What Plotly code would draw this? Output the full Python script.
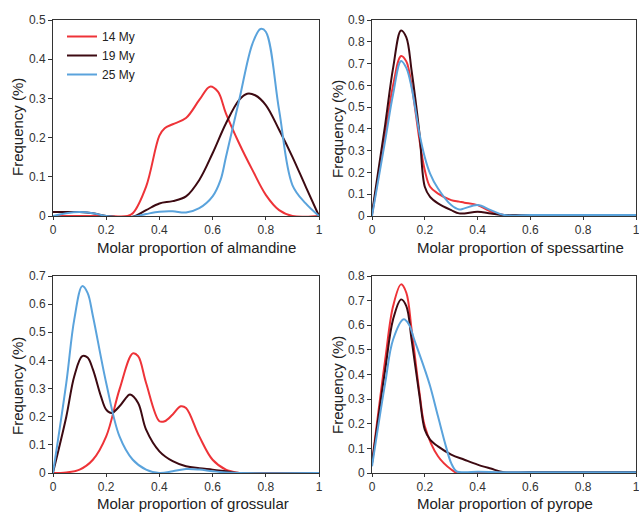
import plotly.graph_objects as go

# ---------------- data ----------------
series_names = ["14 My", "19 My", "25 My"]
series_colors = ["#EE3338", "#3D0A12", "#5AA3DC"]

# Almandine
alm_x_red = [0, 0.1, 0.2, 0.28, 0.3, 0.35, 0.4, 0.42, 0.45, 0.5, 0.55, 0.59, 0.62, 0.65, 0.7, 0.75, 0.8, 0.85, 0.9, 0.95, 1.0]
alm_y_red = [0, 0.0, 0.0, 0.0, 0.007, 0.075, 0.205, 0.224, 0.234, 0.25, 0.296, 0.33, 0.317, 0.262, 0.185, 0.117, 0.054, 0.015, 0.0, -0.002, 0.0]
alm_x_dark = [0, 0.1, 0.15, 0.2, 0.25, 0.3, 0.35, 0.4, 0.45, 0.5, 0.55, 0.6, 0.65, 0.7, 0.73, 0.76, 0.8, 0.85, 0.9, 0.95, 1.0]
alm_y_dark = [0.01, 0.01, 0.007, 0.0, -0.003, -0.002, 0.015, 0.032, 0.038, 0.05, 0.092, 0.16, 0.236, 0.296, 0.312, 0.308, 0.283, 0.22, 0.151, 0.075, 0.0]
alm_x_blue = [0, 0.05, 0.1, 0.15, 0.2, 0.25, 0.3, 0.35, 0.4, 0.45, 0.5, 0.55, 0.6, 0.63, 0.65, 0.7, 0.75, 0.78, 0.8, 0.85, 0.9, 0.95, 1.0]
alm_y_blue = [0, 0.007, 0.01, 0.007, 0.0, -0.003, -0.002, 0.005, 0.011, 0.012, 0.009, 0.02, 0.05, 0.092, 0.15, 0.296, 0.44, 0.477, 0.47, 0.27, 0.079, 0.032, 0.0]

# Spessartine
spe_x = [0, 0.05, 0.08, 0.11, 0.13, 0.15, 0.18, 0.2, 0.22, 0.25, 0.3, 0.33, 0.35, 0.4, 0.45, 0.5, 0.6, 0.8, 1.0]
spe_y_red = [0.005, 0.377, 0.6, 0.735, 0.71, 0.6, 0.347, 0.21, 0.134, 0.103, 0.073, 0.066, 0.061, 0.05, 0.02, 0.005, 0.005, 0.005, 0.005]
spe_y_dark = [0.012, 0.42, 0.68, 0.852, 0.82, 0.667, 0.377, 0.134, 0.088, 0.058, 0.027, 0.012, 0.012, 0.02, 0.012, 0.005, 0.005, 0.005, 0.005]
spe_y_blue = [0.0, 0.347, 0.56, 0.712, 0.68, 0.59, 0.377, 0.27, 0.195, 0.126, 0.05, 0.03, 0.035, 0.05, 0.027, 0.005, 0.005, 0.005, 0.005]

# Grossular
gro_x_red = [0, 0.05, 0.1, 0.15, 0.2, 0.25, 0.3, 0.32, 0.35, 0.4, 0.42, 0.45, 0.48, 0.5, 0.55, 0.6, 0.65, 0.7, 0.72, 0.75, 0.8, 1.0]
gro_y_red = [0, 0.002, 0.012, 0.047, 0.13, 0.297, 0.425, 0.415, 0.32, 0.184, 0.184, 0.208, 0.237, 0.231, 0.13, 0.047, 0.012, 0.0, -0.004, -0.002, 0.0, 0.0]
gro_x_dark = [0, 0.05, 0.08, 0.11, 0.13, 0.15, 0.18, 0.2, 0.22, 0.25, 0.28, 0.29, 0.32, 0.35, 0.4, 0.45, 0.5, 0.55, 0.6, 0.65, 0.7, 1.0]
gro_y_dark = [0.002, 0.2, 0.344, 0.415, 0.41, 0.368, 0.273, 0.225, 0.213, 0.237, 0.273, 0.279, 0.249, 0.154, 0.077, 0.042, 0.024, 0.017, 0.012, 0.006, 0.0, 0.0]
gro_x_blue = [0, 0.05, 0.08, 0.11, 0.13, 0.15, 0.2, 0.25, 0.3, 0.35, 0.4, 0.45, 0.5, 0.55, 0.6, 0.65, 0.7, 1.0]
gro_y_blue = [0, 0.32, 0.546, 0.664, 0.64, 0.558, 0.32, 0.13, 0.047, 0.012, 0.0, 0.006, 0.014, 0.012, 0.006, 0.002, 0.0, 0.0]

# Pyrope
pyr_x_red = [0, 0.05, 0.08, 0.11, 0.13, 0.15, 0.18, 0.2, 0.25, 0.3, 0.33, 0.35, 0.4, 1.0]
pyr_y_red = [0.04, 0.46, 0.678, 0.766, 0.732, 0.583, 0.325, 0.19, 0.068, 0.014, -0.004, -0.003, 0.0, 0.0]
pyr_x_dark = [0, 0.05, 0.08, 0.11, 0.13, 0.15, 0.18, 0.2, 0.22, 0.25, 0.3, 0.35, 0.4, 0.45, 0.5, 0.6, 1.0]
pyr_y_dark = [0.04, 0.42, 0.624, 0.705, 0.678, 0.542, 0.312, 0.176, 0.136, 0.108, 0.075, 0.054, 0.034, 0.018, 0.003, 0.004, 0.004]
pyr_x_blue = [0, 0.05, 0.08, 0.12, 0.14, 0.16, 0.2, 0.22, 0.25, 0.28, 0.3, 0.32, 0.35, 0.4, 0.5, 1.0]
pyr_y_blue = [0.027, 0.366, 0.542, 0.624, 0.603, 0.542, 0.42, 0.353, 0.23, 0.108, 0.04, 0.007, 0.003, 0.005, 0.003, 0.003]

x_titles = ["Molar proportion of almandine", "Molar proportion of spessartine",
            "Molar proportion of grossular", "Molar proportion of pyrope"]
y_title = "Frequency (%)"
y_maxes = [0.5, 0.9, 0.7, 0.8]
x_ticks = [0, 0.2, 0.4, 0.6, 0.8, 1]

panels = [
    [(alm_x_red, alm_y_red), (alm_x_dark, alm_y_dark), (alm_x_blue, alm_y_blue)],
    [(spe_x, spe_y_red), (spe_x, spe_y_dark), (spe_x, spe_y_blue)],
    [(gro_x_red, gro_y_red), (gro_x_dark, gro_y_dark), (gro_x_blue, gro_y_blue)],
    [(pyr_x_red, pyr_y_red), (pyr_x_dark, pyr_y_dark), (pyr_x_blue, pyr_y_blue)],
]

# ---------------- layout ----------------
W, H = 639, 514
FONT = "Arial, Liberation Sans, Helvetica, sans-serif"
px_x = [(53, 319), (372, 636), (53, 319), (372, 636)]
px_y = [(20, 216), (20, 216), (276, 473), (276, 473)]
xtitle_pos = [(95, 247), (415, 247), (95, 503), (415, 503)]   # left edge, middle
ytitle_pos = [(17, 127), (337, 129), (17, 386), (337, 385)]   # centre

fig = go.Figure()
for i, series in enumerate(panels):
    ax = "" if i == 0 else str(i + 1)
    for j in range(3):
        xs, ys = series[j]
        fig.add_trace(go.Scatter(
            x=xs, y=ys, mode="lines", name=series_names[j],
            line=dict(color=series_colors[j], width=2, shape="spline", smoothing=1.0),
            xaxis="x" + ax, yaxis="y" + ax, showlegend=(i == 0),
            hoverinfo="skip",
        ))

annotations = []
for i in range(4):
    xl, ym = xtitle_pos[i]
    annotations.append(dict(
        text=x_titles[i], xref="paper", yref="paper", x=xl / W, y=1 - ym / H,
        xanchor="left", yanchor="middle", showarrow=False,
        font=dict(size=15, color="#222222", family=FONT)))
    xc, yc = ytitle_pos[i]
    annotations.append(dict(
        text=y_title, xref="paper", yref="paper", x=xc / W, y=1 - yc / H,
        xanchor="center", yanchor="middle", showarrow=False, textangle=-90,
        font=dict(size=15, color="#222222", family=FONT)))

layout = dict(
    width=W, height=H,
    margin=dict(l=0, r=0, t=0, b=0, autoexpand=False),
    paper_bgcolor="white", plot_bgcolor="white",
    font=dict(family=FONT, color="#222222", size=12),
    showlegend=True,
    legend=dict(x=62 / W, y=1 - 22 / H, xanchor="left", yanchor="top",
                bgcolor="rgba(0,0,0,0)", font=dict(size=12, color="#222222"),
                itemwidth=30, tracegroupgap=0, borderwidth=0),
    annotations=annotations,
)
for i in range(4):
    ax = "" if i == 0 else str(i + 1)
    x0, x1 = px_x[i]
    yt, yb = px_y[i]
    layout["xaxis" + ax] = dict(
        domain=[x0 / W, x1 / W], anchor="y" + ax, range=[0, 1], automargin=False,
        tickvals=x_ticks, ticks="outside", ticklen=3, tickwidth=1, tickcolor="#333333",
        ticklabeloverflow="allow",
        showline=True, linecolor="#333333", linewidth=1, mirror=True,
        showgrid=False, zeroline=False,
        tickfont=dict(size=12, color="#333333"),
    )
    layout["yaxis" + ax] = dict(
        domain=[1 - yb / H, 1 - yt / H], anchor="x" + ax, range=[0, y_maxes[i]],
        automargin=False, ticklabeloverflow="allow",
        dtick=0.1, tick0=0, ticks="outside", ticklen=4, tickwidth=1, tickcolor="#333333",
        showline=True, linecolor="#333333", linewidth=1, mirror=True,
        showgrid=False, zeroline=False,
        tickfont=dict(size=12, color="#333333"),
    )
fig.update_layout(**layout)
# remove the page's default body margin so the figure sits at the window origin
fig.write_html("out.html", config={"displayModeBar": False},
               post_script="document.body.style.margin='0';document.body.style.overflow='hidden';")
